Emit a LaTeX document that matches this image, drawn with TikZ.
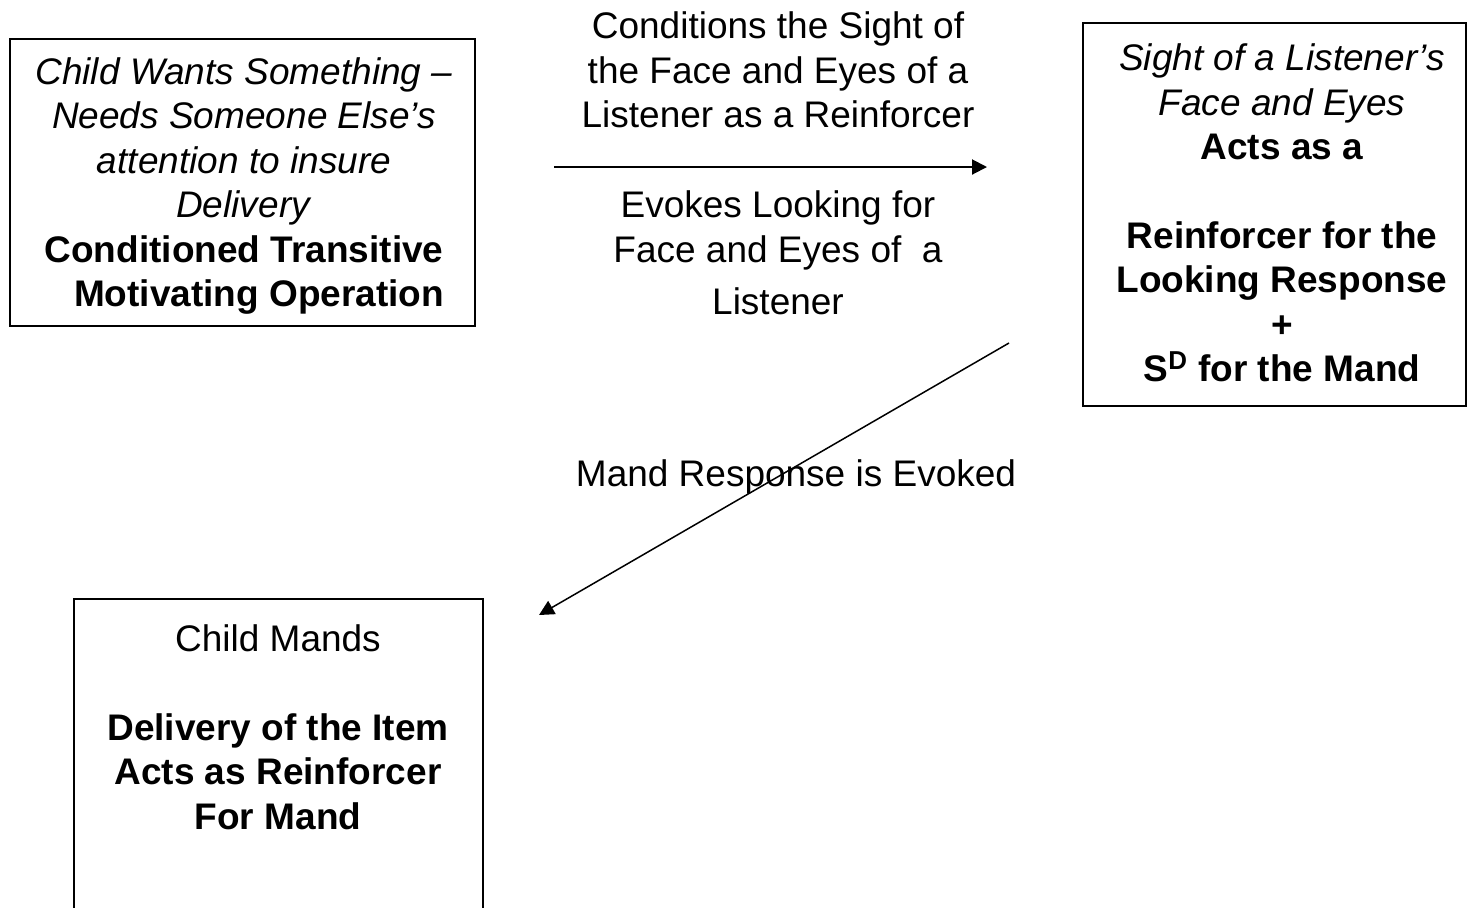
\documentclass[tikz,border=0pt]{standalone}
\usepackage{fontspec}
\setmainfont{Liberation Sans}
\usetikzlibrary{arrows.meta}
\begin{document}
\begin{tikzpicture}[x=0.5pt,y=-0.5pt,
  box/.style={draw,line width=1pt,inner sep=0pt,outer sep=0pt},
  txt/.style={align=center,inner sep=0pt,font=\fontsize{18.5pt}{22.2pt}\selectfont},
  conn/.style={-{Triangle[length=7.5pt,width=7.5pt]}}]
\clip (0,0) rectangle (1467,907);
% boxes
\node[box,minimum width=232.5pt,minimum height=143.5pt] (mo) at (242.5,182.5) {};
\node[box,minimum width=191.5pt,minimum height=191.5pt] (sight) at (1274.5,214.5) {};
\node[box,minimum width=204.5pt,minimum height=180.5pt] (mands) at (278.5,779.5) {};
% box texts
\node[txt] (motext) at (244,186) {\textit{Child Wants Something –}\\\textit{Needs Someone Else’s}\\\textit{attention to insure}\\\textit{Delivery}\\\textbf{Conditioned Transitive}\\\hspace*{15pt}\textbf{Motivating Operation}};
\node[txt] (sighttext) at (1282,213) {\textit{Sight of a Listener’s}\\\textit{Face and Eyes}\\\textbf{Acts as a}\\[22.2pt]\textbf{Reinforcer for the}\\\textbf{Looking Response}\\\textbf{+}\\\textbf{S\textsuperscript{D} for the Mand}};
\node[txt] (mandstext) at (278,727) {Child Mands\\[22.2pt]\textbf{Delivery of the Item}\\\textbf{Acts as Reinforcer}\\\textbf{For Mand}};
% connector labels
\node[txt] (lbla) at (778,70) {Conditions the Sight of\\the Face and Eyes of a\\Listener as a Reinforcer};
\node[txt] (lblb) at (778,253) {Evokes Looking for\\Face and Eyes of\ \ a\\[4pt]Listener};
\node[txt] (lblc) at (796,477) {Mand Response is Evoked};
% connectors
\coordinate (a1) at (554,167);
\coordinate (a2) at (987,167);
\coordinate (b1) at (1009,343);
\coordinate (b2) at (539,615);
\draw[conn,line width=1pt] (a1) -- (a2);
\draw[conn,line width=0.75pt] (b1) -- (b2);
\end{tikzpicture}
\end{document}
